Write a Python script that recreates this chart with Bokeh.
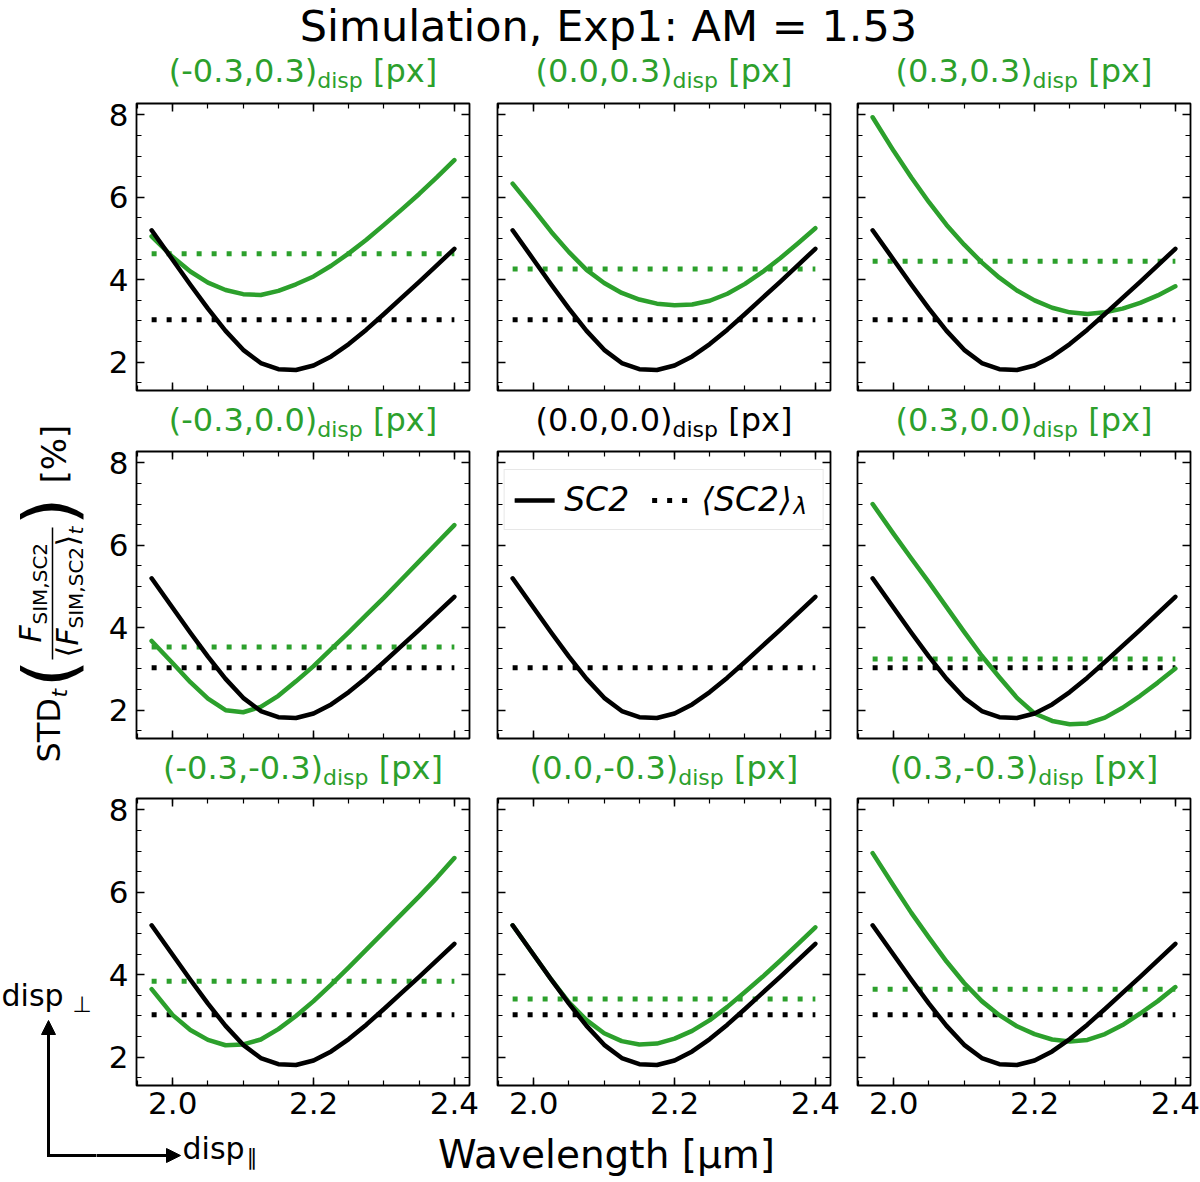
import math
from bokeh.plotting import figure
from bokeh.models import (Range1d, Label, Arrow, NormalHead, LinearAxis,
                          SingleIntervalTicker, Legend, LegendItem,
                          CustomJSTickFormatter, PrintfTickFormatter)
from bokeh.layouts import row, column
from bokeh.embed import file_html
from bokeh.resources import INLINE

FONT = "DejaVu Sans"
GREEN = "#2ca02c"

# ---------------- data ----------------
wavelength = [1.970, 2.000, 2.025, 2.050, 2.075, 2.100, 2.125, 2.150, 2.175,
              2.200, 2.225, 2.250, 2.275, 2.300, 2.325, 2.350, 2.375, 2.400]

sc2_std = [5.20, 4.48, 3.88, 3.30, 2.76, 2.30, 1.98, 1.83, 1.81,
           1.92, 2.14, 2.44, 2.79, 3.17, 3.56, 3.95, 4.35, 4.75]
sc2_mean = 3.03

green_m03_p03 = [5.05, 4.55, 4.20, 3.93, 3.75, 3.65, 3.63, 3.73, 3.89,
                 4.08, 4.34, 4.64, 4.97, 5.33, 5.70, 6.08, 6.48, 6.90]
green_00_p03 = [6.33, 5.70, 5.16, 4.67, 4.24, 3.92, 3.68, 3.52, 3.42,
                3.38, 3.40, 3.49, 3.66, 3.90, 4.19, 4.52, 4.88, 5.25]
green_p03_p03 = [7.94, 7.12, 6.48, 5.88, 5.33, 4.85, 4.42, 4.05, 3.74,
                 3.50, 3.32, 3.21, 3.17, 3.21, 3.30, 3.44, 3.62, 3.84]
green_m03_00 = [3.68, 3.14, 2.68, 2.28, 2.00, 1.95, 2.08, 2.35, 2.70,
                3.07, 3.48, 3.89, 4.31, 4.73, 5.17, 5.61, 6.05, 6.49]
green_p03_00 = [7.00, 6.27, 5.68, 5.10, 4.50, 3.90, 3.32, 2.80, 2.30,
                1.92, 1.74, 1.66, 1.68, 1.82, 2.06, 2.35, 2.67, 3.01]
green_m03_m03 = [3.65, 3.02, 2.66, 2.42, 2.29, 2.31, 2.43, 2.68, 3.00,
                 3.36, 3.76, 4.18, 4.61, 5.04, 5.47, 5.90, 6.35, 6.83]
green_00_m03 = [5.20, 4.48, 3.88, 3.33, 2.90, 2.58, 2.39, 2.31, 2.33,
                2.45, 2.64, 2.90, 3.22, 3.58, 3.95, 4.34, 4.74, 5.15]
green_p03_m03 = [6.95, 6.15, 5.50, 4.90, 4.32, 3.80, 3.36, 3.02, 2.75,
                 2.56, 2.43, 2.38, 2.42, 2.56, 2.78, 3.06, 3.36, 3.70]

green_mean_top = [4.63, 4.26, 4.45]
green_mean_mid = [3.53, None, 3.24]
green_mean_bot = [3.84, 3.41, 3.65]

panel_offsets = [["(-0.3,0.3)", "(0.0,0.3)", "(0.3,0.3)"],
                 ["(-0.3,0.0)", "(0.0,0.0)", "(0.3,0.0)"],
                 ["(-0.3,-0.3)", "(0.0,-0.3)", "(0.3,-0.3)"]]
panel_green = [[green_m03_p03, green_00_p03, green_p03_p03],
               [green_m03_00, None, green_p03_00],
               [green_m03_m03, green_00_m03, green_p03_m03]]
panel_green_mean = [green_mean_top, green_mean_mid, green_mean_bot]

x_ticks_step = 0.2
y_ticks_step = 2

# ---------------- layout constants (pixels) ----------------
LEFT_W = 96
FRAME_W, FRAME_H = 333, 287
COL_W = [387, 360, 357]
COL_L = [40, 14, 14]
COL_R = [14, 13, 10]
STRIP_H = [42, 48, 48]
SUB_Y = [12, 12, 12]
ROW_H = [301, 300, 339]
ROW_T = [9, 8, 7]
ROW_B = [5, 5, 45]
TITLE_H = 52
BOTTOM_H = 52
TOTAL_H = 1182
MID = 0.346   # em distance from the baseline to the middle of the DejaVu em box

CW = {'(': .390, ')': .390, '-': .361, '0': .636, '3': .636, '.': .318,
      ',': .318, 'd': .635, 'i': .278, 's': .521, 'p': .635, ' ': .318,
      '[': .390, ']': .390, 'x': .592}


def tw(s):
    return sum(CW.get(c, 0.6) for c in s)


def lab(p, x, yb, text, size, color="black", style="normal", align="left", level="annotation"):
    """horizontal text; yb = baseline height above the frame bottom"""
    p.add_layout(Label(x=x, y=yb + MID * size, x_units="screen", y_units="screen", text=text,
                       text_font=FONT, text_font_size=f"{size}px",
                       text_font_style=style, text_color=color,
                       text_align=align, text_baseline="middle", level=level))


def rlab(p, xb, y, text, size, style="normal"):
    """text rotated 90 deg; xb = baseline x, y = start of the text above the frame bottom"""
    p.add_layout(Label(x=xb - MID * size, y=y, x_units="screen", y_units="screen", text=text,
                       text_font=FONT, text_font_size=f"{size}px",
                       text_font_style=style, text_color="black",
                       text_align="left", text_baseline="middle", angle=math.pi / 2))


def blank(width, height, left=0, right=0):
    p = figure(width=width, height=height, title=None, x_axis_type=None, y_axis_type=None,
               x_range=Range1d(0, 1), y_range=Range1d(0, 1), min_border=0,
               min_border_left=left, min_border_right=right, min_border_top=0, min_border_bottom=0,
               toolbar_location=None, output_backend="svg")
    p.outline_line_color = None
    p.grid.visible = False
    p.background_fill_color = "white"
    p.border_fill_color = "white"
    return p


def style_axis(ax, show, ticker, standoff, fmt=None):
    ax.ticker = ticker
    ax.axis_line_color = None
    ax.major_tick_in = 8
    ax.major_tick_out = 0
    ax.minor_tick_in = 5
    ax.minor_tick_out = 0
    ax.major_tick_line_width = 1.5
    ax.minor_tick_line_width = 1.2
    ax.major_tick_line_color = "black"
    ax.minor_tick_line_color = "black"
    if show:
        if fmt is not None:
            ax.formatter = fmt
        ax.major_label_text_font = FONT
        ax.major_label_text_font_size = "31px"
        ax.major_label_text_color = "black"
        ax.major_label_standoff = standoff
    else:
        ax.formatter = CustomJSTickFormatter(code="return ''")
        ax.major_label_text_font_size = "0px"
        ax.major_label_standoff = 0


def make_panel(r, c):
    p = figure(width=COL_W[c], height=ROW_H[r], title=None,
               x_range=Range1d(1.9485, 2.4215), y_range=Range1d(1.314, 8.274),
               min_border_left=COL_L[c], min_border_right=COL_R[c],
               min_border_top=ROW_T[r], min_border_bottom=ROW_B[r],
               toolbar_location=None, output_backend="svg")
    p.xgrid.visible = False
    p.ygrid.visible = False
    p.outline_line_color = "black"
    p.outline_line_width = 1.8
    p.outline_line_alpha = 1.0
    p.background_fill_color = "white"
    p.border_fill_color = "white"

    style_axis(p.xaxis[0], r == 2, SingleIntervalTicker(interval=x_ticks_step, num_minor_ticks=4), 6,
               PrintfTickFormatter(format="%.1f"))
    style_axis(p.yaxis[0], c == 0, SingleIntervalTicker(interval=y_ticks_step, num_minor_ticks=4), 8)
    top_ax = LinearAxis()
    style_axis(top_ax, False, SingleIntervalTicker(interval=x_ticks_step, num_minor_ticks=4), 0)
    p.add_layout(top_ax, "above")
    right_ax = LinearAxis()
    style_axis(right_ax, False, SingleIntervalTicker(interval=y_ticks_step, num_minor_ticks=4), 0)
    p.add_layout(right_ax, "right")

    g = panel_green[r][c]
    gm = panel_green_mean[r][c]
    xs_dot = [wavelength[0], wavelength[-1]]
    if g is not None:
        p.line(xs_dot, [gm, gm], line_color=GREEN, line_width=5, line_dash="5 10")
    r_dot = p.line(xs_dot, [sc2_mean, sc2_mean], line_color="black", line_width=5, line_dash="5 10")
    if g is not None:
        p.line(wavelength, g, line_color=GREEN, line_width=4.5, line_join="round", line_cap="round")
    r_sc2 = p.line(wavelength, sc2_std, line_color="black", line_width=4.5, line_join="round", line_cap="round")
    return p, r_sc2, r_dot


def make_strip(r, c):
    s_fig = blank(COL_W[c], STRIP_H[r], COL_L[c], COL_R[c])
    color = GREEN if panel_green[r][c] is not None else "black"
    text = panel_offsets[r][c]
    f, s = 32, 22
    w1 = tw(text) * f
    w2 = tw("disp") * s
    w3 = tw(" [px]") * f
    x0 = FRAME_W / 2 - (w1 + w2 + w3) / 2
    yb = SUB_Y[r]
    lab(s_fig, x0, yb, text, f, color)
    lab(s_fig, x0 + w1, yb - 6, "disp", s, color)
    lab(s_fig, x0 + w1 + w2 + CW[' '] * f, yb, "[px]", f, color)
    return s_fig


panels = [[None] * 3 for _ in range(3)]
strips = [[None] * 3 for _ in range(3)]
handles = {}
for r in range(3):
    for c in range(3):
        p, r_sc2, r_dot = make_panel(r, c)
        panels[r][c] = p
        strips[r][c] = make_strip(r, c)
        handles[(r, c)] = (r_sc2, r_dot)

# legend in the central panel
mm = panels[1][1]
r_sc2, r_dot = handles[(1, 1)]
legend = Legend(items=[LegendItem(label="SC2", renderers=[r_sc2]),
                       LegendItem(label="\u27e8SC2\u27e9  ", renderers=[r_dot])],
                location="top_center", orientation="horizontal",
                label_text_font=FONT, label_text_font_style="italic",
                label_text_font_size="33px", label_text_color="black",
                glyph_width=40, glyph_height=30,
                label_standoff=10, spacing=22, padding=10, margin=18,
                border_line_color="#d0d0d0", border_line_width=1.5,
                background_fill_color="white", background_fill_alpha=0.0)
mm.add_layout(legend)
lab(mm, 296, 738 - 513, "\u03bb", 23, "black", "italic", level="overlay")

# left figure: rotated y label and the vertical part of the arrow diagram
left_fig = blank(LEFT_W, TOTAL_H)


def ylab(bx, py, text, size, style="normal"):
    rlab(left_fig, bx, TOTAL_H - py, text, size, style)


ylab(60, 762, "STD", 32)
ylab(67, 697, "t", 22, "italic")
ylab(73.5, 687, "(", 72)
left_fig.add_layout(Arrow(end=None, x_start=52, y_start=TOTAL_H - 659, x_end=52, y_end=TOTAL_H - 527,
                          start_units="screen", end_units="screen", line_color="black", line_width=1.5))
ylab(40, 642, "F", 30, "italic")
ylab(46, 624, "SIM,SC2", 20)
ylab(77, 657, "\u27e8", 30)
ylab(77, 645, "F", 30, "italic")
ylab(82, 628, "SIM,SC2", 20)
ylab(77, 546, "\u27e9", 30)
ylab(82, 534, "t", 20, "italic")
ylab(73.5, 525, ")", 72)
ylab(65.5, 483, "[%]", 34)

lab(left_fig, 1, TOTAL_H - 1005, "disp", 30)
lab(left_fig, 72, TOTAL_H - 1012, "\u22a5", 22)
left_fig.add_layout(Arrow(end=NormalHead(size=14, fill_color="black", line_color="black", line_width=1),
                          x_start=48, y_start=TOTAL_H - 1156.5, x_end=48, y_end=TOTAL_H - 1020,
                          start_units="screen", end_units="screen", line_color="black", line_width=3))
left_fig.add_layout(Arrow(end=None, x_start=46.5, y_start=TOTAL_H - 1155, x_end=LEFT_W + 2, y_end=TOTAL_H - 1155,
                          start_units="screen", end_units="screen", line_color="black", line_width=3))

# title figure
title_fig = blank(1200 - LEFT_W, TITLE_H)
lab(title_fig, 608 - LEFT_W, TITLE_H - 40, "Simulation, Exp1: AM = 1.53", 43, "black", "normal", "center")

# bottom figure: x label and the horizontal arrow
bot_fig = blank(1200 - LEFT_W, BOTTOM_H)
lab(bot_fig, 606 - LEFT_W, TOTAL_H - 1167, "Wavelength [\u00b5m]", 39, "black", "normal", "center")
bot_fig.add_layout(Arrow(end=NormalHead(size=14, fill_color="black", line_color="black", line_width=1),
                         x_start=-2, y_start=TOTAL_H - 1155, x_end=180 - LEFT_W, y_end=TOTAL_H - 1155,
                         start_units="screen", end_units="screen", line_color="black", line_width=3))
lab(bot_fig, 182 - LEFT_W, TOTAL_H - 1158, "disp", 30)
lab(bot_fig, 246 - LEFT_W, TOTAL_H - 1165, "\u2225", 22)

cols = [column(strips[0][c], panels[0][c], strips[1][c], panels[1][c], strips[2][c], panels[2][c])
        for c in range(3)]
layout = row(left_fig, column(title_fig, row(*cols), bot_fig))

open("out.html", "w").write(file_html(layout, INLINE))
